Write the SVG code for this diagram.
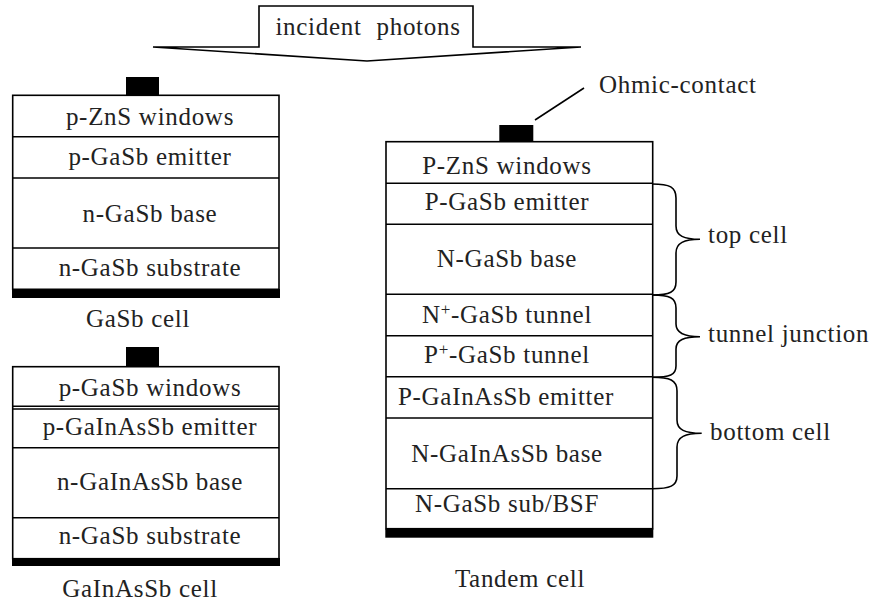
<svg xmlns="http://www.w3.org/2000/svg" width="871" height="613" viewBox="0 0 871 613">
<style>
.t{font-family:"Liberation Serif","Times New Roman",serif;font-size:25px;letter-spacing:0.7px;fill:#222;text-anchor:middle}
.l{text-anchor:start}
.box{fill:#fff;stroke:#000;stroke-width:1.6}
.ln{stroke:#000;stroke-width:1.6;fill:none}
.bar{fill:#000}
.sup{font-size:17px}
</style>
<rect width="871" height="613" fill="#fff"/>
<g id="arrow">
<path d="M153,47 L259,47 L259,6 L473,6 L473,47 L581,47 L367,61 Z" class="box"/>
<text class="t" x="368" y="35" word-spacing="8">incident photons</text>
</g>
<g id="gasb-cell">
<rect class="bar" x="126" y="77" width="33" height="18.5"/>
<rect class="box" x="12.7" y="95.3" width="266.3" height="194"/>
<line class="ln" x1="12.7" y1="136.7" x2="279" y2="136.7"/>
<line class="ln" x1="12.7" y1="178" x2="279" y2="178"/>
<line class="ln" x1="12.7" y1="248" x2="279" y2="248"/>
<rect class="bar" x="12" y="289" width="268" height="9"/>
<text class="t" x="150" y="125">p-ZnS windows</text>
<text class="t" x="150" y="165">p-GaSb emitter</text>
<text class="t" x="150" y="222">n-GaSb base</text>
<text class="t" x="150" y="276">n-GaSb substrate</text>
<text class="t" x="138" y="327">GaSb cell</text>
</g>
<g id="gainassb-cell">
<rect class="bar" x="126" y="347" width="33" height="20"/>
<rect class="box" x="12.7" y="366.7" width="266.3" height="192"/>
<line class="ln" x1="12.7" y1="406.3" x2="279" y2="406.3"/>
<line class="ln" x1="12.7" y1="409" x2="279" y2="409"/>
<line class="ln" x1="12.7" y1="447.7" x2="279" y2="447.7"/>
<line class="ln" x1="12.7" y1="517.7" x2="279" y2="517.7"/>
<rect class="bar" x="12" y="558" width="268" height="8"/>
<text class="t" x="150" y="396">p-GaSb windows</text>
<text class="t" x="150" y="435">p-GaInAsSb emitter</text>
<text class="t" x="150" y="490">n-GaInAsSb base</text>
<text class="t" x="150" y="544">n-GaSb substrate</text>
<text class="t" x="140" y="597">GaInAsSb cell</text>
</g>
<g id="tandem-cell">
<rect class="bar" x="499.3" y="125" width="34" height="17.5"/>
<rect class="box" x="386" y="141.7" width="266.7" height="387"/>
<line class="ln" x1="386" y1="183.3" x2="652.7" y2="183.3"/>
<line class="ln" x1="386" y1="224.3" x2="652.7" y2="224.3"/>
<line class="ln" x1="386" y1="294.3" x2="652.7" y2="294.3"/>
<line class="ln" x1="386" y1="335.7" x2="652.7" y2="335.7"/>
<line class="ln" x1="386" y1="376.7" x2="652.7" y2="376.7"/>
<line class="ln" x1="386" y1="418" x2="652.7" y2="418"/>
<line class="ln" x1="386" y1="488.7" x2="652.7" y2="488.7"/>
<rect class="bar" x="385.3" y="528.7" width="268" height="9"/>
<text class="t" x="507" y="174">P-ZnS windows</text>
<text class="t" x="507" y="210">P-GaSb emitter</text>
<text class="t" x="507" y="267">N-GaSb base</text>
<text class="t" x="507" y="323">N<tspan class="sup" dy="-8">+</tspan><tspan dy="8">-GaSb tunnel</tspan></text>
<text class="t" x="507" y="363">P<tspan class="sup" dy="-8">+</tspan><tspan dy="8">-GaSb tunnel</tspan></text>
<text class="t" x="506" y="405">P-GaInAsSb emitter</text>
<text class="t" x="507" y="462">N-GaInAsSb base</text>
<text class="t" x="507" y="512">N-GaSb sub/BSF</text>
<text class="t" x="520" y="587">Tandem cell</text>
</g>
<g id="labels">
<text class="t l" x="599" y="93">Ohmic-contact</text>
<text class="t l" x="708" y="243">top cell</text>
<text class="t l" x="708" y="342">tunnel junction</text>
<text class="t l" x="710" y="440">bottom cell</text>
</g>
<g id="connectors" class="ln">
<line x1="535" y1="120" x2="584" y2="88"/>
<path d="M652,184 C670,184 676,187 676,198 L676,226 C676,236 684,239.3 700,239.3 C684,239.3 676,243 676,253 L676,282 C676,292 670,295 652,295"/>
<path d="M652,295 C670,295 676,298 676,308 L676,324 C676,333 684,336.7 700,336.7 C684,336.7 676,340 676,349 L676,366 C676,375 670,377.3 652,377.3"/>
<path d="M652,377.3 C670,377.3 677,380 677,391 L677,420 C677,430 685,433.3 701.7,433.3 C685,433.3 677,437 677,447 L677,476 C677,486 670,488.7 652,488.7"/>
</g>
</svg>
